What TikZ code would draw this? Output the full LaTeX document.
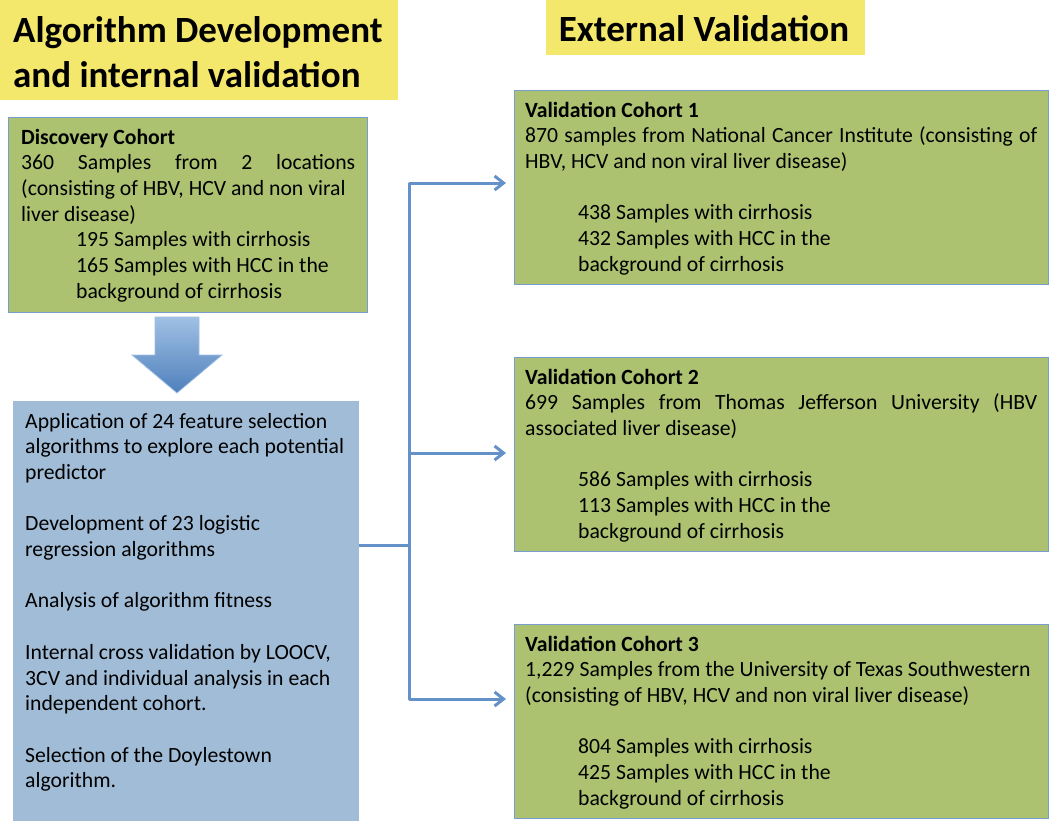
\documentclass[tikz,border=0pt]{standalone}
\usepackage{fontspec}
\setmainfont{Carlito}
\usetikzlibrary{arrows.meta}
\definecolor{hdryellow}{RGB}{243,231,108}
\definecolor{boxgreen}{RGB}{172,194,112}
\definecolor{boxedge}{RGB}{120,158,205}
\definecolor{boxblue}{RGB}{161,188,214}
\definecolor{connblue}{RGB}{100,145,200}
\definecolor{arrtop}{RGB}{160,192,228}
\definecolor{arrbot}{RGB}{78,128,188}
\setlength{\parindent}{0pt}
\begin{document}
\begin{tikzpicture}[x=1pt,y=-1pt,
  yelbox/.style={fill=hdryellow,inner sep=0pt,anchor=north west},
  grnbox/.style={fill=boxgreen,draw=boxedge,line width=1.2pt,inner sep=0pt,anchor=north west},
  blubox/.style={fill=boxblue,inner sep=0pt,anchor=north west},
  hdr/.style={font=\fontsize{37}{45}\selectfont\bfseries,inner sep=0pt,align=left},
  txt/.style={font=\fontsize{21.7}{25.7}\selectfont,inner sep=0pt,align=left,anchor=base west},
  conn/.style={draw=connblue,line width=3pt,line join=round},
  arr/.style={-{Straight Barb[length=9pt,width=14pt]},shorten >=8pt}
]
\useasboundingbox (0,0) rectangle (1050,831);
\fill[white] (0,0) rectangle (1050,831);

% headers (base anchor = baseline of the last line)
\node[yelbox,minimum width=398pt,minimum height=100pt] (h1) at (0,0) {};
\node[hdr,anchor=base west] (h1t) at (13,87) {Algorithm Development\\and internal validation};
\node[yelbox,minimum width=319pt,minimum height=55pt] (h2) at (546,0) {};
\node[hdr,anchor=base] (h2t) at (704,41) {External Validation};

% discovery cohort
\node[grnbox,minimum width=359pt,minimum height=195pt] (disc) at (8,117) {};
\node[txt] (disct) at (21,298.2) {\textbf{Discovery Cohort}\\
\makebox[334pt][s]{360 Samples from 2 locations}\\
(consisting of HBV, HCV and non viral\\
liver disease)\\
\hspace*{55pt}195 Samples with cirrhosis\\
\hspace*{55pt}165 Samples with HCC in the\\
\hspace*{55pt}background of cirrhosis};

% block arrow
\shadedraw[top color=arrtop,bottom color=arrbot,draw=arrtop,line width=0.8pt]
  (155,317) -- (199,317) -- (199,355) -- (222,355) -- (177,393) -- (132,355) -- (155,355) -- cycle;

% development box
\node[blubox,minimum width=346pt,minimum height=420pt] (dev) at (13,401) {};
\node[txt] (devt) at (25,787.8) {Application of 24 feature selection\\
algorithms to explore each potential\\
predictor\\[25.7pt]
Development of 23 logistic\\
regression algorithms\\[25.7pt]
Analysis of algorithm fitness\\[25.7pt]
Internal cross validation by LOOCV,\\
3CV and individual analysis in each\\
independent cohort.\\[25.7pt]
Selection of the Doylestown\\
algorithm.};

% validation cohorts
\node[grnbox,minimum width=534pt,minimum height=194pt] (v1) at (514,90) {};
\node[txt] (v1t) at (525,271.2) {\textbf{Validation Cohort 1}\\
\makebox[512pt][s]{870 samples from National Cancer Institute (consisting of}\\
HBV, HCV and non viral liver disease)\\[25.7pt]
\hspace*{53pt}438 Samples with cirrhosis\\
\hspace*{53pt}432 Samples with HCC in the\\
\hspace*{53pt}background of cirrhosis};

\node[grnbox,minimum width=534pt,minimum height=194pt] (v2) at (514,357) {};
\node[txt] (v2t) at (525,538.2) {\textbf{Validation Cohort 2}\\
\makebox[512pt][s]{699 Samples from Thomas Jefferson University (HBV}\\
associated liver disease)\\[25.7pt]
\hspace*{53pt}586 Samples with cirrhosis\\
\hspace*{53pt}113 Samples with HCC in the\\
\hspace*{53pt}background of cirrhosis};

\node[grnbox,minimum width=534pt,minimum height=194pt] (v3) at (514,624) {};
\node[txt] (v3t) at (525,805.2) {\textbf{Validation Cohort 3}\\
1,229 Samples from the University of Texas Southwestern\\
(consisting of HBV, HCV and non viral liver disease)\\[25.7pt]
\hspace*{53pt}804 Samples with cirrhosis\\
\hspace*{53pt}425 Samples with HCC in the\\
\hspace*{53pt}background of cirrhosis};

% connectors
\coordinate (j1) at (409,183);
\coordinate (j2) at (409,453);
\coordinate (j3) at (409,699);
\coordinate (jm) at (409,545);
\draw[conn] (dev.east |- jm) -- (jm);
\draw[conn,arr] (j3) -- (j1) -- (v1.west |- j1);
\draw[conn,arr] (j1) -- (j3) -- (v3.west |- j3);
\draw[conn,arr] (j2) -- (v2.west |- j2);
\end{tikzpicture}
\end{document}
